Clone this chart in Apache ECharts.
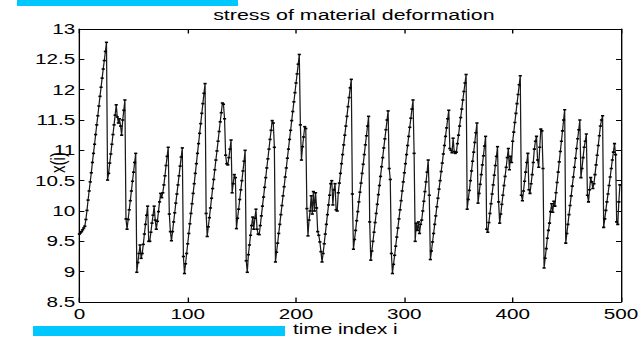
<!DOCTYPE html>
<html>
<head>
<meta charset="utf-8">
<script src="https://cdn.jsdelivr.net/npm/echarts@6/dist/echarts.min.js"></script>
<style>
  html, body { margin: 0; padding: 0; background: #fff; overflow: hidden; }
  #wrap { width: 641px; height: 337px; overflow: hidden; position: relative; }
  /* the figure is laid out narrow and widened horizontally, like the printed plot */
  #main { position: absolute; left: 0; top: 0; height: 337px; transform-origin: 0 0; }
</style>
</head>
<body>
<div id="wrap"><div id="main"></div></div>
<script>
// horizontal widening of the whole figure
const STRETCH = 1.38;

const titleText = 'stress of material deformation';
const xName = 'time index i';
const yName = 'x(i)';

// x axis: time index
const xMin = 0, xMax = 500, xStep = 100;
// y axis: stress
const yMin = 8.5, yMax = 13, yStep = 0.5;

// stress x(i), i = 0 .. 499
const stress = [
  9.62, 9.64, 9.66, 9.69, 9.72, 9.75, 9.86, 10.01, 10.18, 10.33,
  10.48, 10.63, 10.80, 10.95, 11.10, 11.26, 11.42, 11.57, 11.73, 11.89,
  12.04, 12.19, 12.34, 12.48, 12.63, 12.78, 10.51, 10.62, 10.79, 10.94,
  11.10, 11.26, 11.42, 11.58, 11.75, 11.55, 11.45, 11.52, 11.40, 11.25,
  11.50, 11.66, 11.83, 9.87, 9.70, 9.86, 10.02, 10.17, 10.33, 10.49,
  10.64, 10.80, 10.95, 8.99, 9.15, 9.30, 9.44, 9.22, 9.30, 9.45,
  9.62, 9.78, 9.93, 10.08, 9.50, 9.50, 9.65, 9.80, 9.93, 10.08,
  9.85, 9.70, 9.83, 9.99, 10.15, 10.29, 10.22, 10.30, 10.43, 10.58,
  10.75, 10.90, 11.05, 9.95, 9.66, 9.51, 9.66, 9.82, 9.97, 10.13,
  10.28, 10.43, 10.58, 10.74, 10.89, 11.04, 9.25, 8.97, 9.13, 9.30,
  9.46, 9.63, 9.79, 9.96, 10.12, 10.29, 10.45, 10.62, 10.78, 10.95,
  11.11, 11.28, 11.44, 11.61, 11.77, 11.94, 12.10, 9.96, 9.58, 9.74,
  9.89, 10.05, 10.21, 10.37, 10.52, 10.68, 10.84, 10.99, 11.15, 11.31,
  11.47, 11.62, 11.78, 11.76, 11.52, 10.92, 10.78, 10.76, 10.88, 11.02,
  11.17, 10.30, 10.45, 10.60, 10.55, 9.71, 9.88, 10.03, 10.19, 10.35,
  10.50, 10.66, 10.82, 11.00, 9.18, 8.99, 9.28, 9.44, 9.60, 9.76,
  9.90, 9.70, 9.88, 10.03, 9.70, 9.62, 9.61, 9.76, 9.92, 10.08,
  10.23, 10.39, 10.55, 10.71, 10.86, 11.02, 11.18, 11.33, 11.49, 11.45,
  11.05, 9.16, 9.32, 9.47, 9.63, 9.78, 9.94, 10.09, 10.25, 10.40,
  10.56, 10.71, 10.87, 11.02, 11.18, 11.33, 11.49, 11.64, 11.80, 11.95,
  12.11, 12.26, 12.42, 12.58, 11.42, 10.84, 11.06, 11.22, 11.39, 11.36,
  10.04, 9.59, 9.85, 10.00, 10.25, 9.95, 10.32, 10.00, 10.30, 10.05,
  9.66, 9.60, 9.49, 9.33, 9.16, 9.30, 9.46, 9.62, 9.78, 9.94,
  10.10, 10.26, 10.45, 10.50, 10.10, 10.35, 10.45, 10.02, 10.00, 10.30,
  10.46, 10.62, 10.78, 10.93, 11.09, 11.25, 11.40, 11.56, 11.72, 11.87,
  12.03, 12.17, 10.28, 9.37, 9.53, 9.68, 9.84, 9.99, 10.15, 10.31,
  10.46, 10.62, 10.77, 10.93, 11.09, 11.24, 11.40, 11.56, 9.82, 9.19,
  9.34, 9.50, 9.65, 9.81, 9.96, 10.11, 10.27, 10.42, 10.57, 10.73,
  10.88, 11.04, 11.19, 11.34, 11.50, 11.65, 10.70, 10.52, 9.30, 8.97,
  9.12, 9.27, 9.42, 9.57, 9.72, 9.87, 10.02, 10.17, 10.33, 10.48,
  10.63, 10.78, 10.93, 11.08, 11.23, 11.38, 11.53, 11.68, 11.83, 10.95,
  9.50, 9.80, 9.68, 9.82, 9.63, 9.78, 9.85, 10.00, 10.16, 10.32,
  10.48, 10.64, 10.84, 10.26, 9.20, 9.34, 9.49, 9.63, 9.78, 9.92,
  10.07, 10.21, 10.36, 10.50, 10.65, 10.79, 10.94, 11.08, 11.23, 11.37,
  11.52, 11.66, 11.03, 11.00, 10.96, 11.20, 10.98, 10.95, 10.97, 11.11,
  11.25, 11.40, 11.54, 11.68, 11.83, 11.97, 12.11, 12.25, 10.03, 10.19,
  10.34, 10.50, 10.66, 10.82, 10.97, 11.13, 11.29, 11.45, 10.13, 10.29,
  10.44, 10.60, 10.76, 10.91, 11.07, 11.23, 9.70, 9.65, 9.81, 9.96,
  10.12, 10.28, 10.43, 10.59, 10.75, 10.90, 11.06, 10.15, 9.80, 9.95,
  10.11, 10.26, 10.42, 10.57, 10.72, 10.88, 11.03, 10.68, 10.90, 10.80,
  11.15, 11.30, 11.46, 11.61, 11.77, 11.92, 12.08, 12.23, 10.26, 10.17,
  10.33, 10.49, 10.64, 10.80, 10.95, 10.35, 10.29, 10.45, 10.60, 10.80,
  11.02, 11.15, 11.23, 10.84, 10.72, 11.05, 11.35, 11.32, 10.70, 9.06,
  9.22, 9.38, 9.55, 9.68, 9.80, 9.99, 10.12, 9.98, 10.16, 10.08,
  10.30, 10.47, 10.64, 10.81, 10.98, 11.15, 11.32, 11.50, 11.67, 9.47,
  9.63, 9.78, 9.94, 10.09, 10.25, 10.41, 10.56, 10.72, 10.87, 11.03,
  11.19, 11.34, 11.50, 10.55, 10.70, 10.88, 11.05, 11.15, 11.27, 10.26,
  10.15, 10.35, 10.55, 10.48, 10.37, 10.45, 10.60, 10.76, 10.92, 11.08,
  11.24, 11.40, 11.50, 11.57, 9.73, 9.87, 10.01, 10.15, 10.28, 10.42,
  10.56, 10.70, 10.84, 10.97, 11.11, 10.93, 9.82, 9.78, 10.15, 10.43
];

const W = 641 / STRETCH;   // layout width before widening
const H = 337;
const sx = v => v / STRETCH; // screen x -> layout x

const el = document.getElementById('main');
el.style.width = W + 'px';
el.style.transform = 'scaleX(' + STRETCH + ')';

const font = "'Liberation Sans', Arial, Helvetica, sans-serif";
const ink = '#000';

const tickX = { show: true, inside: true, length: 4.5, lineStyle: { color: ink, width: 1 } };
const tickY = { show: true, inside: true, length: 3.6, lineStyle: { color: ink, width: 1 } };
const axisLine = { show: true, onZero: false, lineStyle: { color: ink, width: 1 } };

const chart = echarts.init(el, null, { renderer: 'svg', width: W, height: H });

chart.setOption({
  animation: false,
  backgroundColor: '#fff',
  title: {
    text: titleText,
    left: sx(347),
    top: 2,
    textAlign: 'center',
    textStyle: { fontFamily: font, fontSize: 15.5, fontWeight: 'normal', color: ink }
  },
  grid: {
    left: sx(79.4), right: W - sx(621), top: 29, bottom: H - 302,
    containLabel: false, outerBoundsMode: 'none'
  },
  xAxis: [
    {
      type: 'value', min: xMin, max: xMax, interval: xStep, position: 'bottom',
      axisLine: axisLine, axisTick: tickX, splitLine: { show: false },
      axisLabel: { fontFamily: font, fontSize: 15, color: ink, margin: 5 },
      name: xName, nameLocation: 'middle', nameGap: 20, nameMoveOverlap: false,
      nameTextStyle: { fontFamily: font, fontSize: 15, color: ink, padding: [0, 7, 0, 0] }
    },
    {
      type: 'value', min: xMin, max: xMax, interval: xStep, position: 'top',
      axisLine: axisLine, axisTick: tickX, splitLine: { show: false },
      axisLabel: { show: false }
    }
  ],
  yAxis: [
    {
      type: 'value', min: yMin, max: yMax, interval: yStep, position: 'left',
      axisLine: axisLine, axisTick: tickY, splitLine: { show: false },
      axisLabel: { fontFamily: font, fontSize: 15, color: ink, margin: 3 },
      name: yName, nameLocation: 'middle', nameGap: 8, nameRotate: 90, nameMoveOverlap: false,
      nameTextStyle: { fontFamily: font, fontSize: 15, color: ink, padding: [0, 0, 0, 6] }
    },
    {
      type: 'value', min: yMin, max: yMax, interval: yStep, position: 'right',
      axisLine: axisLine, axisTick: tickY, splitLine: { show: false },
      axisLabel: { show: false }
    }
  ],
  series: [{
    type: 'line',
    xAxisIndex: 0,
    yAxisIndex: 0,
    data: stress.map((v, i) => [i, v]),
    showSymbol: true,
    showAllSymbol: true,
    symbol: 'rect',
    symbolSize: [2.3, 1.6],
    itemStyle: { color: ink },
    lineStyle: { color: '#1a1a1a', width: 0.9 },
    emphasis: { disabled: true },
    silent: true
  }],
  graphic: [
    { type: 'rect', left: sx(17), top: 0, shape: { width: sx(238) - sx(17), height: 6 }, style: { fill: '#00c8ff' }, silent: true },
    { type: 'rect', left: sx(33), top: 326, shape: { width: sx(285) - sx(33), height: 10 }, style: { fill: '#00c8ff' }, silent: true }
  ]
});
</script>
</body>
</html>
